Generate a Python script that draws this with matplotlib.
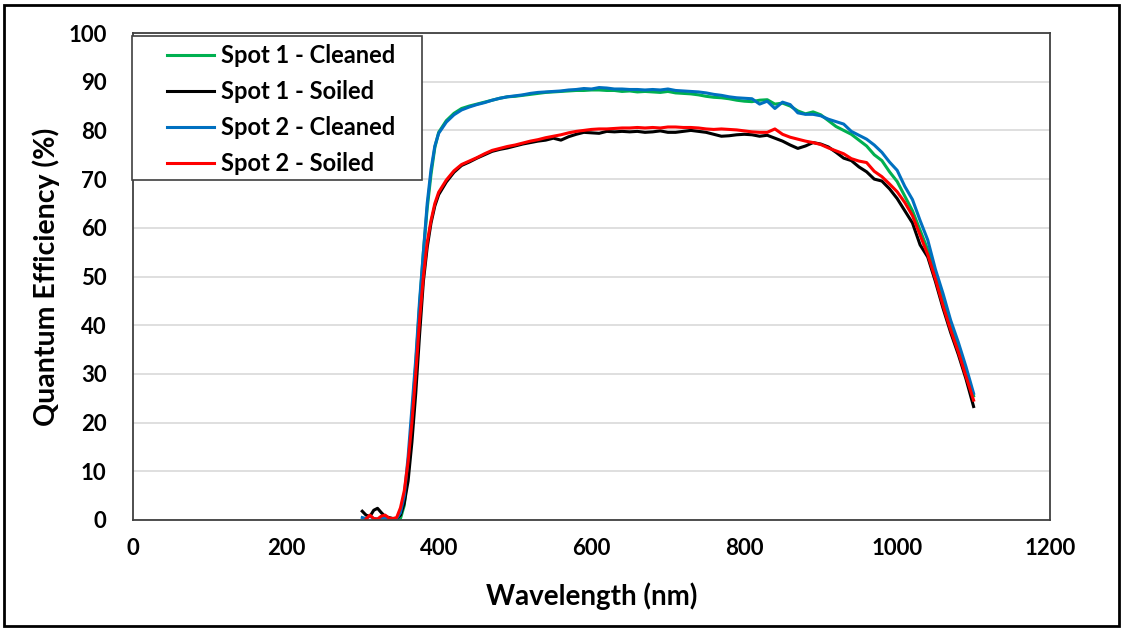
import numpy as np
import matplotlib
matplotlib.use("Agg")
import matplotlib.pyplot as plt
from matplotlib.patches import Rectangle

plt.rcParams['font.family'] = ['Lato', 'DejaVu Sans']
plt.rcParams['font.weight'] = 'bold'

nan = np.nan
wavelength = list(range(300, 400, 5)) + list(range(400, 1101, 10))

spot1_cleaned = [nan, nan, nan, nan, nan, nan, nan, nan, nan, 0.0,
                 0.3, 3.0, 11, 21, 32, 44, 55, 64, 71, 76.5,
                 79.6, 82.0, 83.5, 84.5, 85.0, 85.4, 85.8, 86.2, 86.6, 86.9,
                 87.0, 87.2, 87.4, 87.6, 87.8, 87.9, 88.0, 88.1, 88.2, 88.2,
                 88.3, 88.3, 88.2, 88.2, 88.0, 88.1, 87.9, 88.0, 87.9, 87.8,
                 88.0, 87.7, 87.6, 87.5, 87.3, 87.0, 86.8, 86.7, 86.5, 86.2,
                 86.0, 85.9, 86.2, 86.3, 85.4, 85.6, 85.0, 84.0, 83.4, 83.8,
                 83.2, 82.0, 80.8, 80.0, 79.2, 78.0, 76.8, 75.0, 73.8, 71.5,
                 69.5, 66.5, 63.5, 59.5, 55.5, 50.5, 45.5, 40.5, 35.5, 30.5,
                 25.5]

spot1_soiled = [1.8, 1.0, 0.7, 2.0, 2.4, 1.5, 0.7, 0.5, 0.3, 0.3,
                1.0, 3.5, 8, 16, 26, 38, 49, 56, 61, 64.5,
                66.8, 69.4, 71.4, 72.8, 73.5, 74.3, 75.0, 75.7, 76.1, 76.4,
                76.8, 77.2, 77.5, 77.8, 78.0, 78.4, 78.0, 78.7, 79.2, 79.6,
                79.5, 79.4, 79.8, 79.7, 79.8, 79.7, 79.8, 79.6, 79.7, 79.9,
                79.6, 79.6, 79.8, 80.0, 79.8, 79.6, 79.2, 78.8, 78.9, 79.1,
                79.2, 79.1, 78.8, 79.0, 78.4, 77.8, 77.0, 76.3, 76.8, 77.5,
                77.2, 76.6, 75.5, 74.3, 73.8, 72.5, 71.5, 70.0, 69.6, 68.0,
                66.0, 63.5, 61.0, 56.5, 54.0, 49.0, 43.5, 38.5, 34.0, 29.0,
                23.3]

spot2_cleaned = [0.5, 0.3, 0.8, 0.3, 0.2, 0.5, 0.4, 0.3, 0.2, 0.3,
                 1.5, 5, 13, 23, 33, 45, 55, 65, 72, 76.8,
                 79.4, 81.7, 83.2, 84.2, 84.8, 85.3, 85.7, 86.2, 86.6, 86.9,
                 87.1, 87.3, 87.6, 87.8, 87.9, 88.0, 88.1, 88.3, 88.4, 88.6,
                 88.5, 88.8, 88.7, 88.5, 88.5, 88.4, 88.4, 88.3, 88.4, 88.3,
                 88.5, 88.2, 88.1, 88.0, 87.9, 87.7, 87.4, 87.2, 86.9, 86.7,
                 86.6, 86.5, 85.4, 86.0, 84.5, 85.8, 85.3, 83.6, 83.3, 83.3,
                 83.0, 82.3, 81.8, 81.3, 79.8, 79.0, 78.2, 77.0, 75.5, 73.5,
                 71.8, 68.5, 65.8, 61.5, 57.5, 51.5, 46.5, 41.0, 36.5, 31.5,
                 26.0]

spot2_soiled = [nan, 0.2, 1.0, 0.3, 0.2, 0.8, 1.0, 0.4, 0.3, 0.5,
                2.5, 6, 12, 20, 30, 41, 50, 57, 61.5, 65,
                67.3, 69.8, 71.7, 73.0, 73.7, 74.4, 75.2, 75.9, 76.3, 76.7,
                77.0, 77.4, 77.8, 78.1, 78.5, 78.8, 79.1, 79.5, 79.8, 80.0,
                80.2, 80.3, 80.3, 80.4, 80.5, 80.5, 80.6, 80.5, 80.6, 80.5,
                80.7, 80.7, 80.6, 80.6, 80.5, 80.3, 80.2, 80.3, 80.2, 80.1,
                79.9, 79.7, 79.6, 79.6, 80.3, 79.2, 78.6, 78.2, 77.8, 77.5,
                77.1, 76.4, 75.8, 75.2, 74.2, 73.7, 73.4, 71.6, 70.5, 69.0,
                67.4, 65.2, 62.5, 58.5, 54.5, 49.5, 44.0, 39.0, 34.5, 29.5,
                24.6]

labels = ["Spot 1 - Cleaned", "Spot 1 - Soiled", "Spot 2 - Cleaned", "Spot 2 - Soiled"]
colors = ["#00b050", "#000000", "#0070c0", "#ff0000"]
series = [spot1_cleaned, spot1_soiled, spot2_cleaned, spot2_soiled]

W, H = 1122, 629
fig = plt.figure(figsize=(W / 100, H / 100), dpi=100)
ax = fig.add_axes([133 / W, 1 - 520 / H, (1050 - 133) / W, (520 - 33) / H])

for y, c, lab in zip(series, colors, labels):
    ax.plot(wavelength, y, color=c, lw=2.2, label=lab, solid_joinstyle='round')

ax.set_xlim(0, 1200)
ax.set_ylim(0, 100)
ax.set_xticks(range(0, 1201, 200))
ax.set_yticks(range(0, 101, 10))
ax.yaxis.grid(True, color='#d9d9d9', lw=1.2)
ax.set_axisbelow(True)
ax.tick_params(length=0, labelsize=16)
ax.tick_params(axis='x', pad=13)
ax.tick_params(axis='y', pad=19)
for lab in ax.get_xticklabels() + ax.get_yticklabels():
    lab.set_fontweight('bold')
for s in ax.spines.values():
    s.set_color('#404040')
    s.set_linewidth(1.3)

ax.set_xlabel("Wavelength (nm)", fontsize=20, fontweight='bold', labelpad=17)
ax.set_ylabel("Quantum Efficiency (%)", fontsize=20.5, fontweight='bold', labelpad=6)

# legend box frame drawn separately at the reference position
frame = Rectangle((132 / W, 1 - 180 / H), (422 - 132) / W, (180 - 36) / H,
                  transform=fig.transFigure, facecolor='white',
                  edgecolor='#404040', lw=1.2, zorder=4.9, clip_on=False)
ax.add_artist(frame)

leg = ax.legend(loc='upper left', bbox_to_anchor=(167 / W, 1 - 44 / H),
                bbox_transform=fig.transFigure, frameon=False,
                fontsize=17, handlelength=2.0, handletextpad=0.3,
                labelspacing=0.55, borderpad=0, borderaxespad=0)
leg.set_zorder(5)
for t in leg.get_texts():
    t.set_fontweight('bold')

fig.patches.append(Rectangle((4 / W, 1 - 626 / H), (1119 - 4) / W, (626 - 5) / H,
                             transform=fig.transFigure, fill=False,
                             edgecolor='black', lw=2))

fig.savefig("out.png", dpi=100)
